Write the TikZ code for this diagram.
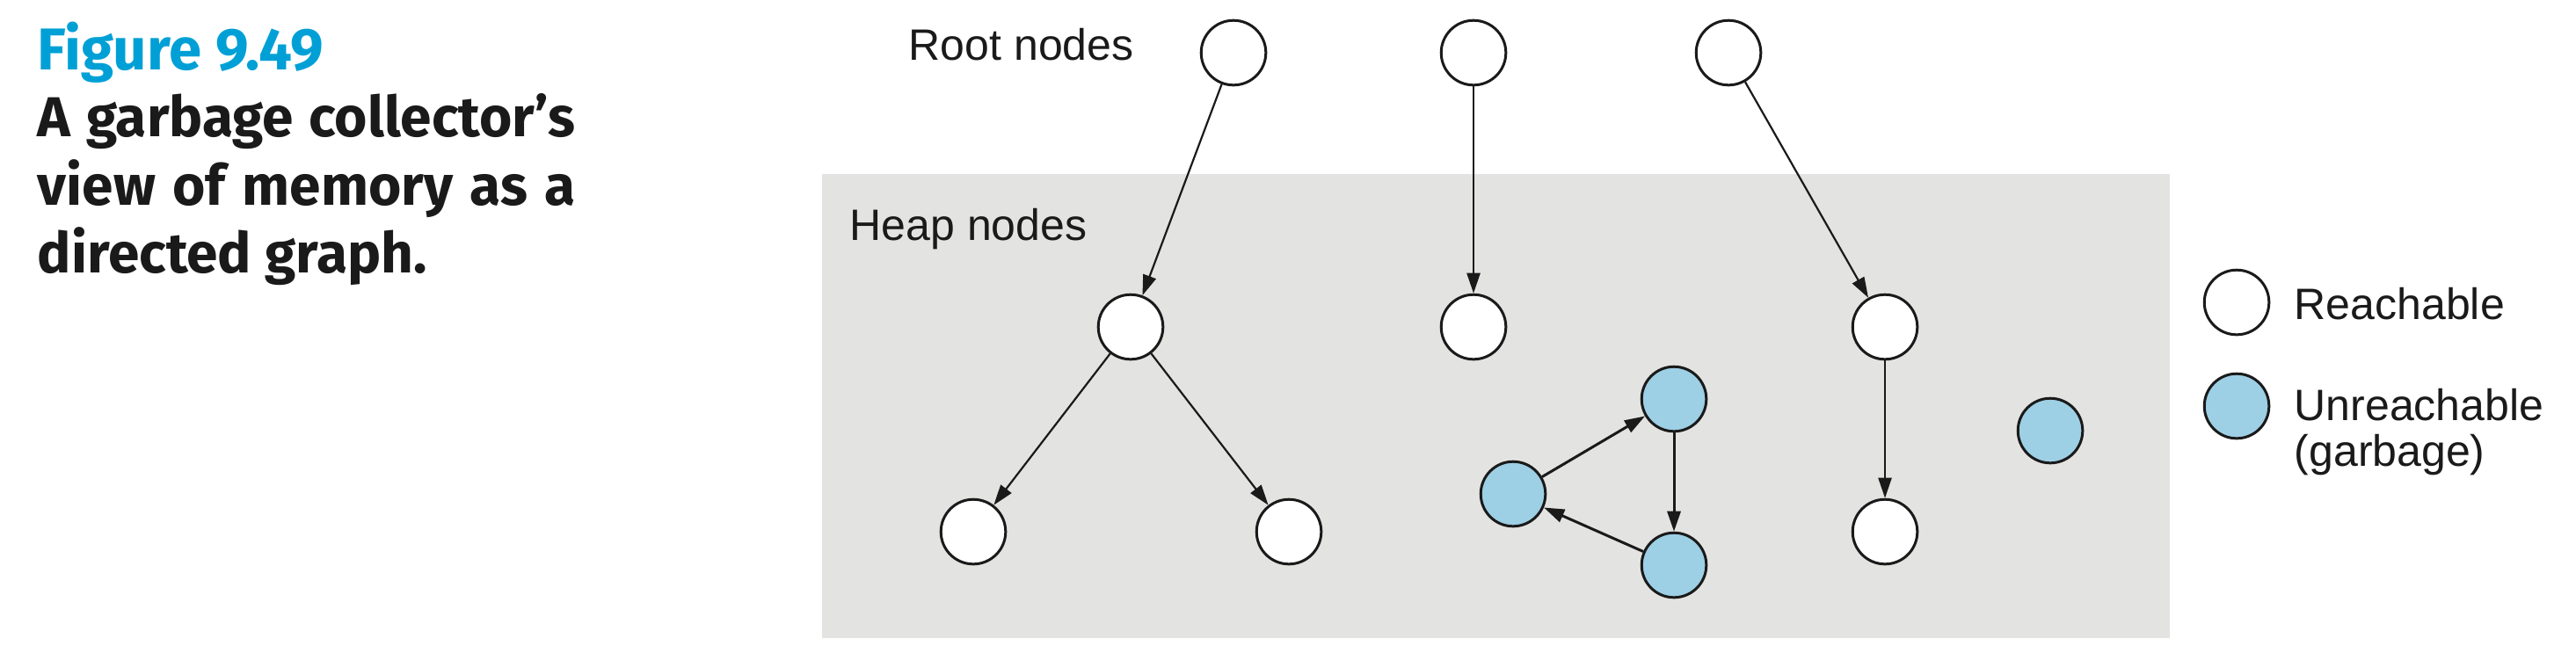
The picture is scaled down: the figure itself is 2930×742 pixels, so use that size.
\documentclass[tikz,border=0pt]{standalone}
\usepackage{fontspec}
\setmainfont{Liberation Sans}
\newfontfamily\capfont{Fira Sans}
\usetikzlibrary{arrows.meta}
\definecolor{heapgray}{RGB}{227,227,226}
\definecolor{garbblue}{RGB}{157,207,229}
\definecolor{figcyan}{RGB}{0,160,214}
\definecolor{inkblack}{RGB}{26,26,26}
\begin{document}
\begin{tikzpicture}[x=0.25pt,y=-0.25pt,
  obj/.style={circle,draw=inkblack,line width=0.75pt,fill=white,minimum size=18.4pt,inner sep=0pt},
  garb/.style={obj,fill=garbblue},
  ptr/.style={draw=inkblack,-{Triangle[length=5.8pt,width=3.8pt]},line width=0.55pt},
  cyc/.style={ptr,line width=0.75pt},
  lbl/.style={anchor=base west,inner sep=0pt,text=inkblack,font=\fontsize{12.5pt}{15pt}\selectfont},
  caption/.style={anchor=base west,inner sep=0pt,text=inkblack,font=\capfont\bfseries\fontsize{16pt}{19pt}\selectfont}]
\useasboundingbox (0,0) rectangle (2930,742);
\fill[heapgray] (935,198) rectangle (2468,726);
% caption
\node[caption,text=figcyan,font=\capfont\bfseries\fontsize{16.8pt}{20pt}\selectfont] (fig) at (42,79) {Figure 9.49};
\node[caption] (c1) at (42,155) {\makebox[153pt][s]{A garbage collector’s}};
\node[caption] (c2) at (42,233) {\makebox[153pt][s]{view of memory as a}};
\node[caption] (c3) at (42,310) {directed graph.};
% labels
\node[lbl] (rootlbl) at (1033,68) {Root nodes};
\node[lbl] (heaplbl) at (966,273) {Heap nodes};
% nodes
\node[obj] (r1) at (1403,60) {};
\node[obj] (r2) at (1676,60) {};
\node[obj] (r3) at (1966,60) {};
\node[obj] (h1) at (1286,372) {};
\node[obj] (h2) at (1676,372) {};
\node[obj] (h3) at (2144,372) {};
\node[obj] (b1) at (1107,605) {};
\node[obj] (b2) at (1466,605) {};
\node[obj] (b3) at (2144,605) {};
\node[garb] (g1) at (1904,454) {};
\node[garb] (g2) at (1721,562) {};
\node[garb] (g3) at (1904,643) {};
\node[garb] (g4) at (2332,490) {};
% edges
\draw[ptr] (r1) -- (h1);
\draw[ptr] (r2) -- (h2);
\draw[ptr] (r3) -- (h3);
\draw[ptr] (h1) -- (b1);
\draw[ptr] (h1) -- (b2);
\draw[ptr] (h3) -- (b3);
\draw[cyc] (g2) -- (g1);
\draw[cyc] (g1) -- (g3);
\draw[cyc] (g3) -- (g2);
% legend
\node[obj] (lr) at (2544,344) {};
\node[garb] (lu) at (2544,462) {};
\node[lbl] (lrt) at (2609,363) {Reachable};
\node[lbl] (lut) at (2609,478) {Unreachable};
\node[lbl] (lgt) at (2609,530) {(garbage)};
\end{tikzpicture}
\end{document}
